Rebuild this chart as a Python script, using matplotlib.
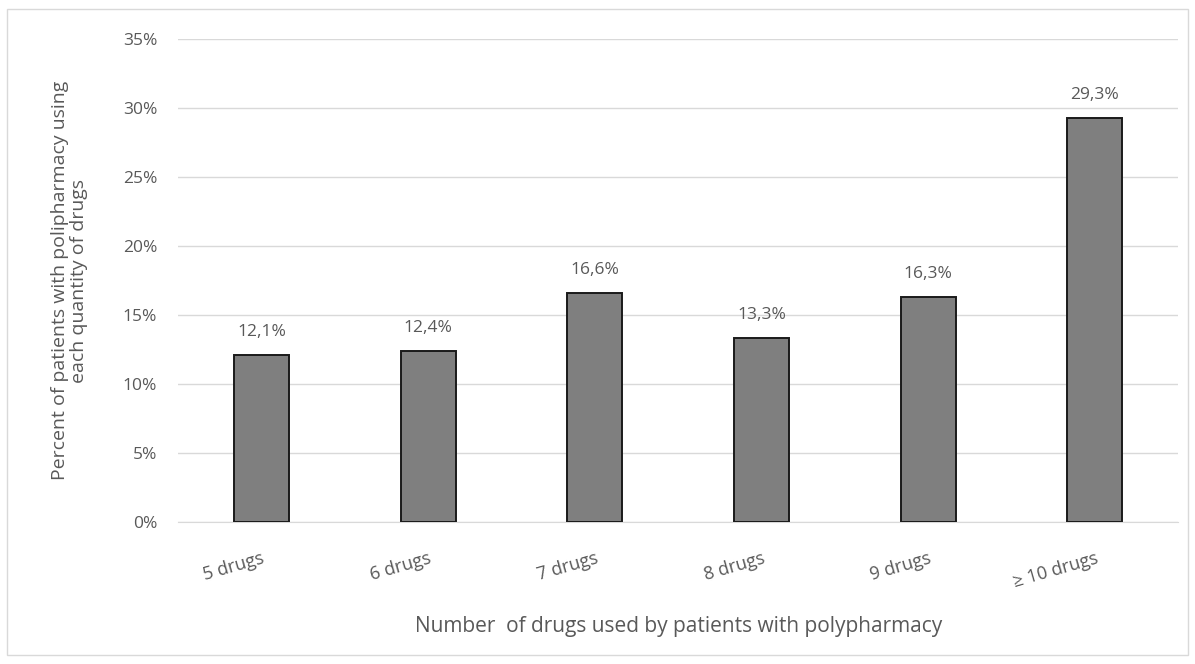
import matplotlib.pyplot as plt
from matplotlib.patches import Rectangle

# data
categories = ['5 drugs', '6 drugs', '7 drugs', '8 drugs', '9 drugs', '≥ 10 drugs']
percent = [12.1, 12.4, 16.6, 13.3, 16.3, 29.3]
labels = ['12,1%', '12,4%', '16,6%', '13,3%', '16,3%', '29,3%']
yticks = [0, 5, 10, 15, 20, 25, 30, 35]

plt.rcParams['font.family'] = ['Open Sans', 'DejaVu Sans']
txt = '#595959'

fig = plt.figure(figsize=(11.95, 6.64), dpi=100)
ax = fig.add_axes([0.149, 0.214, 0.837, 0.727])

x = range(len(categories))
ax.bar(x, percent, width=0.33, color='#7f7f7f', edgecolor='#1a1a1a', linewidth=1.4, zorder=3)

for xi, v, s in zip(x, percent, labels):
    ax.annotate(s, (xi, v), xytext=(0, 11), textcoords='offset points',
                ha='center', va='bottom', fontsize=12.5, color=txt)

ax.set_ylim(0, 35)
ax.set_xlim(-0.5, len(categories) - 0.5)
ax.set_yticks(yticks)
ax.set_yticklabels([f'{t}%' for t in yticks], fontsize=12.5, color=txt)
ax.set_xticks(list(x))
ax.set_xticklabels(categories, rotation=16, fontsize=13, color=txt,
                   ha='right', va='top', rotation_mode='anchor')
ax.tick_params(length=0)
ax.tick_params(axis='y', pad=15)
ax.tick_params(axis='x', pad=20)

ax.grid(axis='y', color='#d9d9d9', linewidth=1, zorder=0)
for sp in ['top', 'right', 'left']:
    ax.spines[sp].set_visible(False)
ax.spines['bottom'].set_color('#d9d9d9')

ax.set_xlabel('Number  of drugs used by patients with polypharmacy', fontsize=15, color=txt, labelpad=18)
ax.set_ylabel('Percent of patients with polipharmacy using\neach quantity of drugs', fontsize=14,
              color=txt, labelpad=25, linespacing=1.1)

# light frame around the chart
fig.patches.append(Rectangle((0.006, 0.014), 0.988, 0.972, transform=fig.transFigure,
                             fill=False, edgecolor='#d9d9d9', linewidth=1))

plt.savefig('out.png', dpi=100)
